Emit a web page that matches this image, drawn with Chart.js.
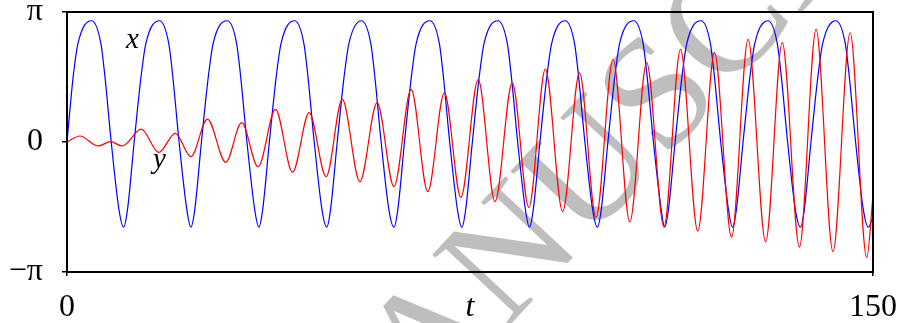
<!DOCTYPE html>
<html>
<head>
<meta charset="utf-8">
<script src="https://cdn.jsdelivr.net/npm/chart.js@4.4.1/dist/chart.umd.min.js"></script>
<style>
  html, body { margin: 0; padding: 0; background: #fff; }
</style>
</head>
<body>
<canvas id="myChart" width="909" height="323"></canvas>
<script>
// time points and values of the blue curve x
const xSeriesT = [
  0, 1.15, 2.04,
  4.57, 6.31, 7.06, 8.23, 9.68, 10.54, 11.25, 12.50, 13.78, 14.67,
  17.20, 18.94, 19.69, 20.86, 22.31, 23.06, 23.77, 25.02, 26.30, 27.19,
  29.83, 31.57, 32.32, 33.49, 34.94, 35.70, 36.41, 37.66, 38.94, 39.83,
  42.35, 44.09, 44.84, 46.01, 47.46, 48.33, 49.04, 50.29, 51.57, 52.46,
  54.80, 56.54, 57.29, 58.46, 59.91, 60.85, 61.56, 62.81, 64.09, 64.98,
  67.56, 69.30, 70.05, 71.22, 72.67, 73.48, 74.19, 75.44, 76.72, 77.61,
  80.21, 81.95, 82.70, 83.87, 85.32, 86.06, 86.77, 88.02, 89.30, 90.19,
  92.72, 94.46, 95.21, 96.38, 97.83, 98.71, 99.42, 100.67, 101.95, 102.84,
  105.48, 107.22, 107.97, 109.14, 110.59, 111.21, 111.92, 113.17, 114.45, 115.34,
  118.00, 119.74, 120.49, 121.66, 123.11, 123.86, 124.57, 125.82, 127.10, 127.99,
  130.45, 132.19, 132.94, 134.11, 135.56, 136.50, 137.21, 138.46, 139.74, 140.63,
  143.10, 144.84, 145.59, 146.76, 148.21, 149.13, 150
];
const xSeriesV = [
  0, 1.58, 2.38,
  2.93, 2.38, 1.58, 0, -1.64, -2.06, -1.64, 0, 1.58, 2.38,
  2.93, 2.38, 1.58, 0, -1.64, -2.06, -1.64, 0, 1.58, 2.38,
  2.93, 2.38, 1.58, 0, -1.64, -2.06, -1.64, 0, 1.58, 2.38,
  2.93, 2.38, 1.58, 0, -1.64, -2.06, -1.64, 0, 1.58, 2.38,
  2.93, 2.38, 1.58, 0, -1.64, -2.06, -1.64, 0, 1.58, 2.38,
  2.93, 2.38, 1.58, 0, -1.64, -2.06, -1.64, 0, 1.58, 2.38,
  2.93, 2.38, 1.58, 0, -1.64, -2.06, -1.64, 0, 1.58, 2.38,
  2.93, 2.38, 1.58, 0, -1.64, -2.06, -1.64, 0, 1.58, 2.38,
  2.93, 2.38, 1.58, 0, -1.64, -2.06, -1.64, 0, 1.58, 2.38,
  2.93, 2.38, 1.58, 0, -1.64, -2.06, -1.64, 0, 1.58, 2.38,
  2.93, 2.38, 1.58, 0, -1.64, -2.06, -1.64, 0, 1.58, 2.38,
  2.93, 2.38, 1.58, 0, -1.64, -2.06, -1.8
];

// extrema of the red curve y
const ySeriesT = [
  0, 2.40, 5.79, 8.08, 10.30, 13.82, 17.07, 20.16, 23.06, 26.13,
  29.54, 32.50, 35.57, 38.79, 41.98, 45.07, 48.22, 51.23, 54.51, 57.71,
  60.85, 64.05, 67.14, 70.23, 73.30, 76.52, 79.66, 82.86, 85.95, 89.02,
  92.24, 95.38, 98.45, 101.63, 104.74, 107.88, 111.10, 114.17, 117.39, 120.50,
  123.68, 126.75, 130.02, 133.11, 136.31, 139.40, 142.55, 145.74, 148.83, 150
];
const ySeriesV = [
  0, 0.145, -0.097, 0.007, -0.097, 0.31, -0.25, 0.21, -0.355, 0.555,
  -0.49, 0.466, -0.60, 0.79, -0.73, 0.71, -0.84, 1.03, -0.96, 0.95,
  -1.08, 1.27, -1.20, 1.19, -1.34, 1.51, -1.44, 1.43, -1.58, 1.76,
  -1.68, 1.67, -1.82, 2.00, -1.93, 1.92, -2.05, 2.24, -2.15, 2.16,
  -2.30, 2.48, -2.41, 2.40, -2.54, 2.72, -2.65, 2.64, -2.79, -1.3
];

const xTickValues = [0, 75, 150];
const xTickLabels = ['0', 't', '150'];
const yTickValues = [-Math.PI, 0, Math.PI];
const yTickLabels = ['\u2212\u03c0', '0', '\u03c0'];

const serif = '"Liberation Serif", "Times New Roman", serif';

// names written next to the curves (data coordinates)
const curveNames = [
  { text: 'x', t: 12.2, v: 2.27 },
  { text: 'y', t: 17.2, v: -0.63 }
];

function toPoints(ts, vs) {
  return ts.map((t, i) => ({ x: t, y: vs[i] }));
}

// grey "accepted manuscript" stamp behind the plot
const watermark = {
  id: 'watermark',
  beforeDraw(chart) {
    let ctx = chart.ctx;
    ctx.save();
    ctx.fillStyle = 'rgb(190,190,190)';
    ctx.font = '160px ' + serif;
    ctx.textBaseline = 'alphabetic';
    ctx.translate(330, 518);
    ctx.rotate(-47 * Math.PI / 180);
    ctx.textAlign = 'left';
    ctx.fillText('MANUSCRIPT', 0, 0);
    ctx.textAlign = 'right';
    ctx.fillText('ACCEPTED ', 0, 0);
    ctx.restore();
  }
};

const frame = {
  id: 'frame',
  afterDatasetsDraw(chart) {
    let ctx = chart.ctx;
    let a = chart.chartArea;
    ctx.save();
    ctx.strokeStyle = '#000';
    ctx.lineWidth = 2;
    ctx.strokeRect(a.left, a.top, a.right - a.left, a.bottom - a.top);
    ctx.restore();
  }
};

const names = {
  id: 'names',
  afterDatasetsDraw(chart) {
    let ctx = chart.ctx;
    ctx.save();
    ctx.fillStyle = '#000';
    ctx.font = 'italic 29px ' + serif;
    ctx.textAlign = 'center';
    ctx.textBaseline = 'alphabetic';
    curveNames.forEach(n => {
      ctx.fillText(n.text, chart.scales.x.getPixelForValue(n.t), chart.scales.y.getPixelForValue(n.v));
    });
    ctx.restore();
  }
};

let ctx = document.getElementById('myChart').getContext('2d');
let myChart = new Chart(ctx, {
  type: 'line',
  data: {
    datasets: [
      {
        label: 'y',
        data: toPoints(ySeriesT, ySeriesV),
        borderColor: '#ff0000',
        borderWidth: 1.2,
        pointRadius: 0,
        fill: false,
        cubicInterpolationMode: 'monotone'
      },
      {
        label: 'x',
        data: toPoints(xSeriesT, xSeriesV),
        borderColor: '#0000ff',
        borderWidth: 1.2,
        pointRadius: 0,
        fill: false,
        cubicInterpolationMode: 'monotone'
      }
    ]
  },
  options: {
    responsive: false,
    animation: false,
    events: [],
    layout: { padding: { top: 12, right: 31, bottom: 0, left: 0 } },
    plugins: {
      legend: { display: false },
      tooltip: { enabled: false }
    },
    scales: {
      x: {
        type: 'linear',
        min: 0,
        max: 150,
        afterBuildTicks: s => { s.ticks = xTickValues.map(v => ({ value: v })); },
        afterFit: s => { s.height = 51; },
        border: { display: false },
        grid: {
          drawOnChartArea: false,
          drawTicks: true,
          tickLength: 4,
          lineWidth: 1.5,
          color: '#000',
          tickColor: c => (c.tick && c.tick.value === 75) ? 'rgba(0,0,0,0)' : '#000'
        },
        ticks: {
          autoSkip: false,
          maxRotation: 0,
          padding: 12,
          color: '#000',
          font: c => ({ family: serif, size: 32, style: (c.tick && c.tick.value === 75) ? 'italic' : 'normal' }),
          callback: (v, i) => xTickLabels[i]
        }
      },
      y: {
        min: -Math.PI,
        max: Math.PI,
        afterBuildTicks: s => { s.ticks = yTickValues.map(v => ({ value: v })); },
        afterFit: s => { s.width = 67; s.paddingTop = 0; },
        border: { display: false },
        grid: {
          drawOnChartArea: false,
          drawTicks: true,
          tickLength: 5,
          lineWidth: 1.5,
          color: '#000'
        },
        ticks: {
          autoSkip: false,
          padding: 19,
          color: '#000',
          font: { family: serif, size: 32 },
          callback: (v, i) => yTickLabels[i]
        }
      }
    }
  },
  plugins: [watermark, frame, names]
});
</script>
</body>
</html>
